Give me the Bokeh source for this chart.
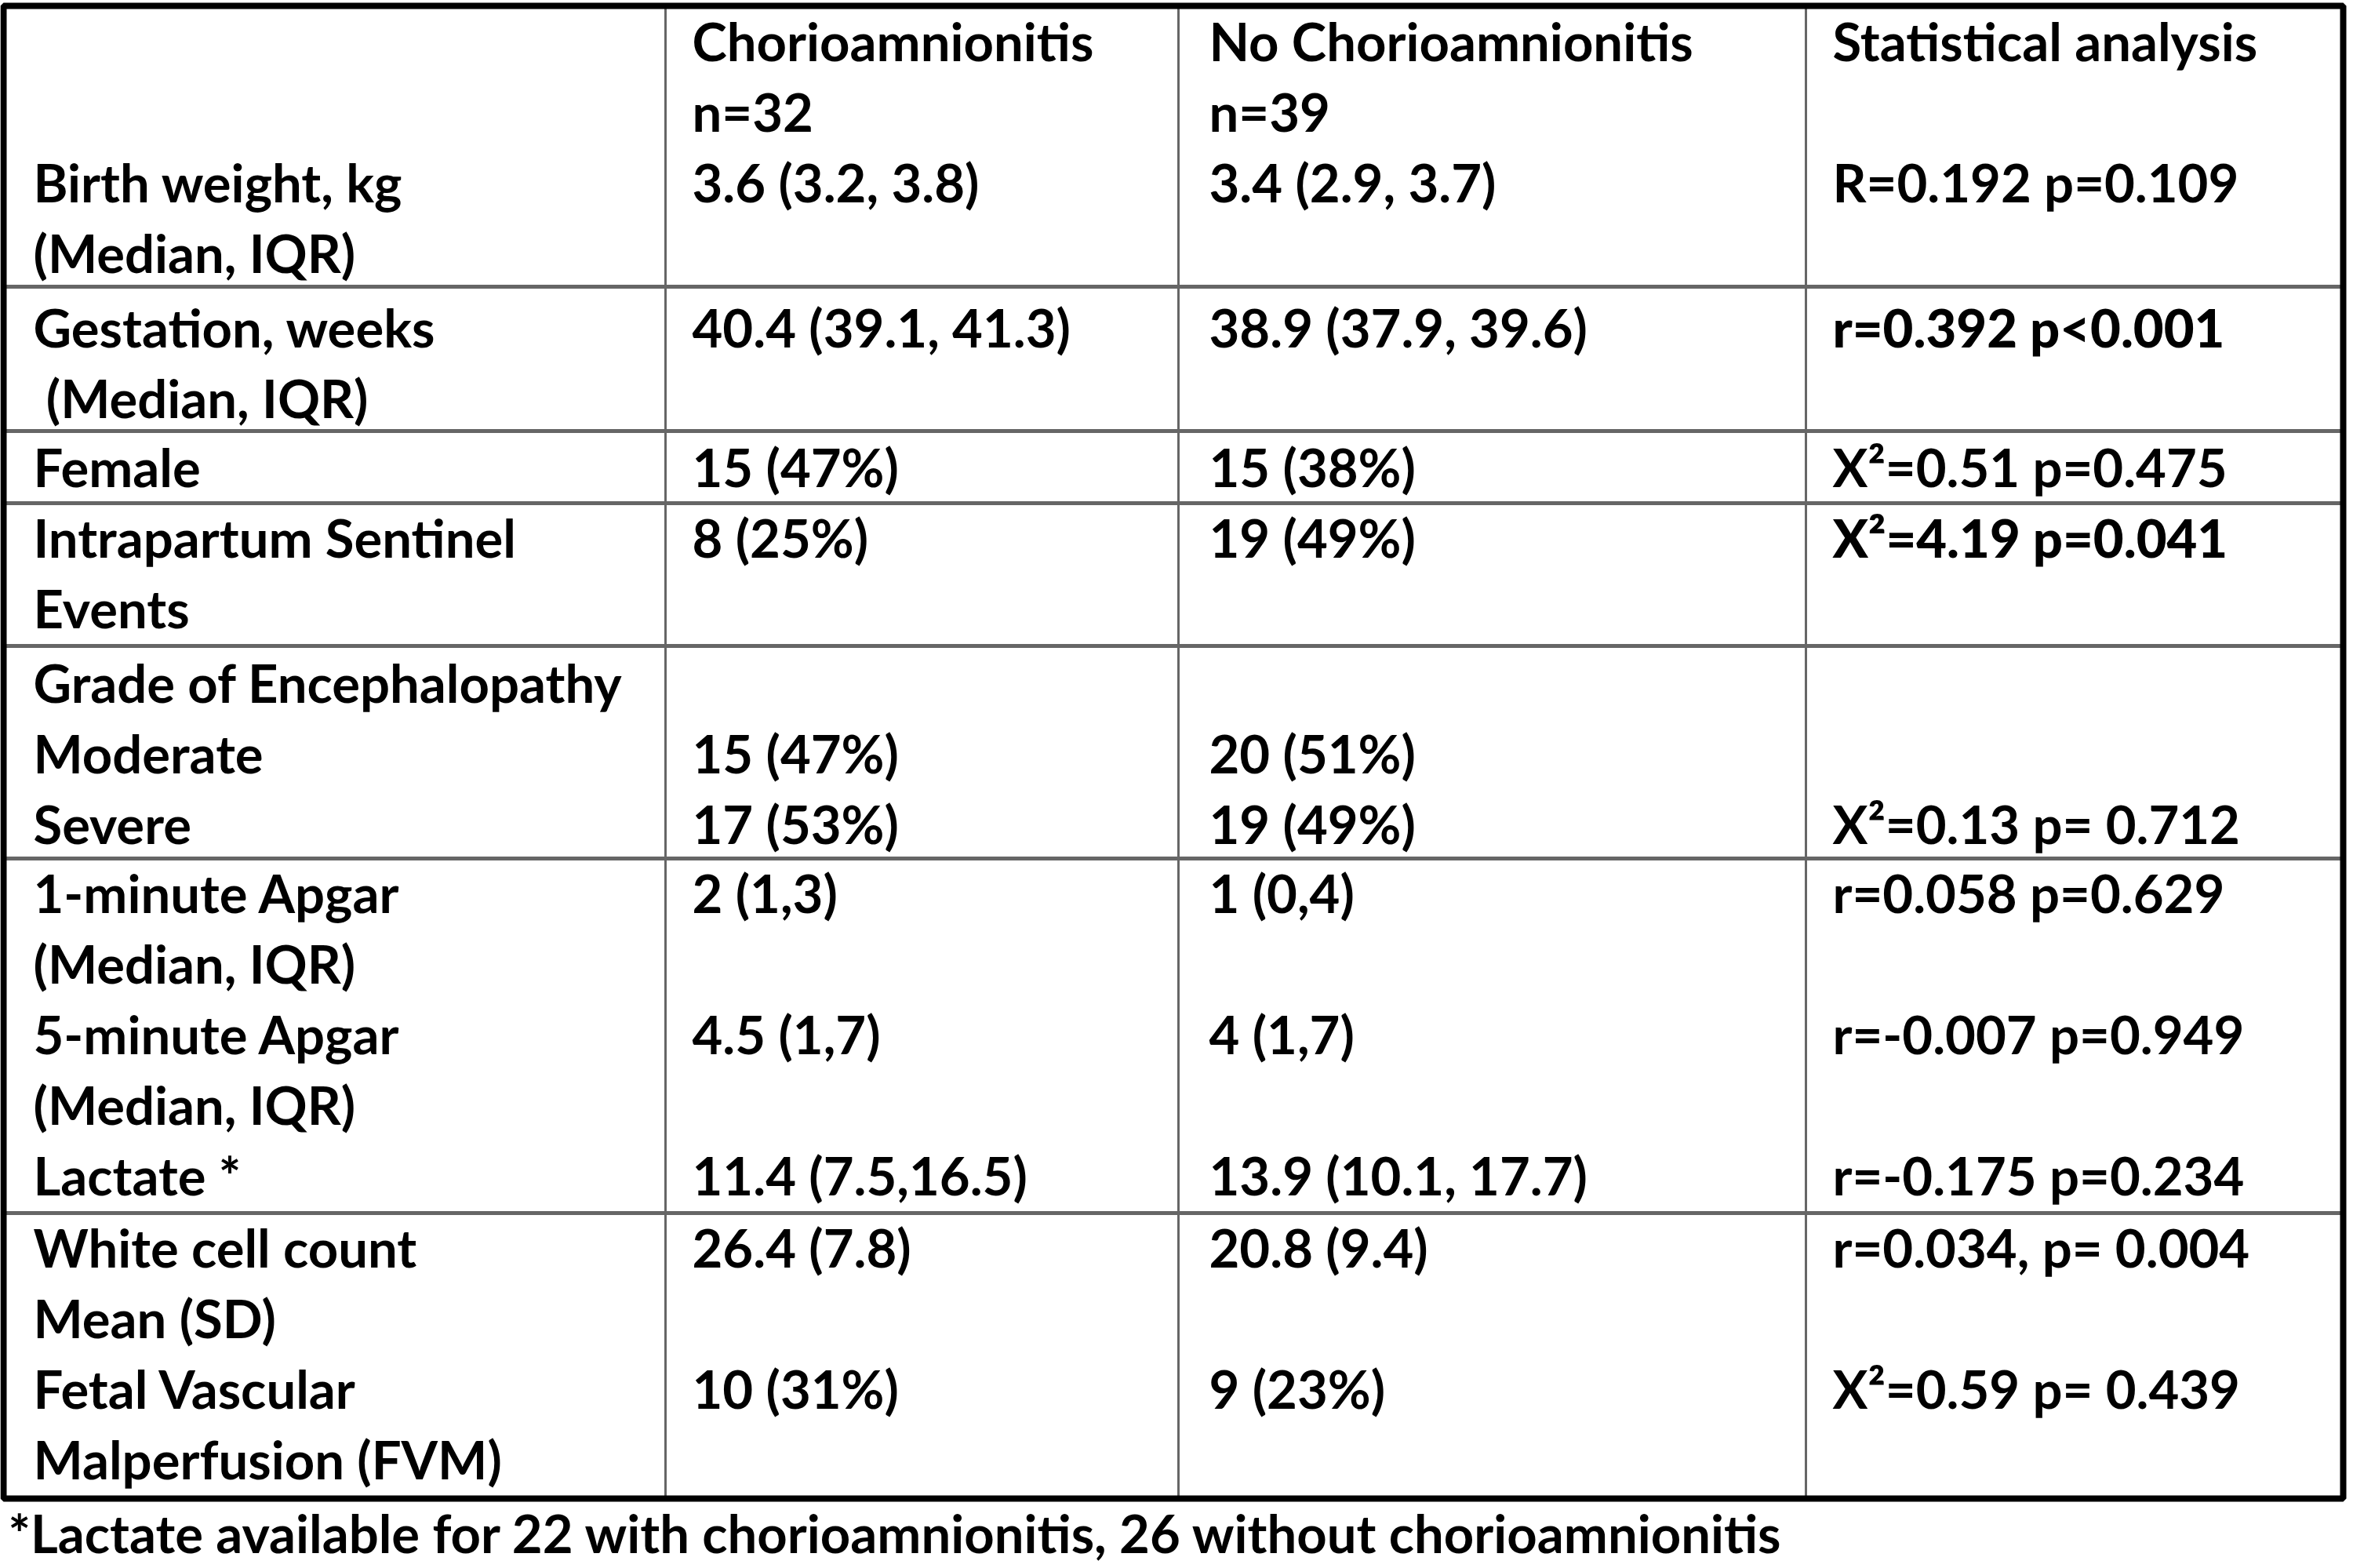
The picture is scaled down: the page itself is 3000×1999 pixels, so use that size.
from bokeh.plotting import figure
from bokeh.models import Range1d, ColumnDataSource
from bokeh.core.properties import value
from bokeh.embed import file_html
from bokeh.resources import INLINE

# ---------------- table content ----------------
label_col = [
    ["", "", "Birth weight, kg", "(Median, IQR)"],
    ["Gestation, weeks", "\u00a0(Median, IQR)"],
    ["Female"],
    ["Intrapartum Sentinel", "Events"],
    ["Grade of Encephalopathy", "Moderate", "Severe"],
    ["1-minute Apgar", "(Median, IQR)", "5-minute Apgar", "(Median, IQR)", "Lactate *"],
    ["White cell count", "Mean (SD)", "Fetal Vascular", "Malperfusion (FVM)"],
]
chorio_col = [
    ["Chorioamnionitis", "n=32", "3.6 (3.2, 3.8)"],
    ["40.4 (39.1, 41.3)"],
    ["15 (47%)"],
    ["8 (25%)"],
    ["", "15 (47%)", "17 (53%)"],
    ["2 (1,3)", "", "4.5 (1,7)", "", "11.4 (7.5,16.5)"],
    ["26.4 (7.8)", "", "10 (31%)"],
]
no_chorio_col = [
    ["No Chorioamnionitis", "n=39", "3.4 (2.9, 3.7)"],
    ["38.9 (37.9, 39.6)"],
    ["15 (38%)"],
    ["19 (49%)"],
    ["", "20 (51%)", "19 (49%)"],
    ["1 (0,4)", "", "4 (1,7)", "", "13.9 (10.1, 17.7)"],
    ["20.8 (9.4)", "", "9 (23%)"],
]
stats_col = [
    ["Statistical analysis", "", "R=0.192 p=0.109"],
    ["r=0.392 p<0.001"],
    ["X\u00b2=0.51 p=0.475"],
    ["X\u00b2=4.19 p=0.041"],
    ["", "", "X\u00b2=0.13 p= 0.712"],
    ["r=0.058 p=0.629", "", "r=-0.007 p=0.949", "", "r=-0.175 p=0.234"],
    ["r=0.034, p= 0.004", "", "X\u00b2=0.59 p= 0.439"],
]
stats_emphasis = [False, True, False, True, False, False, False]
footnote = "*Lactate available for 22 with chorioamnionitis, 26 without chorioamnionitis"

# ---------------- layout (pixels) ----------------
W, H = 2992, 1999
rule_y = [365, 549, 641, 823, 1094, 1546]
border_l, border_r, border_t, border_b = 4, 2987, 7, 1910
col_div_x = [848, 1502, 2302]
col_text_x = [42, 882, 1541, 2336]
first_center = [51, 416, 594, 684, 869, 1137, 1589]
pitch = 90
foot_x, foot_y = 10, 1953
FONT = "Lato"
FSIZE = "67px"

p = figure(width=W, height=H, x_range=Range1d(0, W), y_range=Range1d(H, 0),
           output_backend="svg", toolbar_location=None, x_axis_type=None, y_axis_type=None,
           min_border=0, min_border_left=0, min_border_right=0, min_border_top=0, min_border_bottom=0)
p.grid.visible = False
p.outline_line_color = None
p.background_fill_color = "white"
p.border_fill_color = "white"

# inner rules
p.segment(x0=[border_l] * len(rule_y), x1=[border_r] * len(rule_y), y0=rule_y, y1=rule_y,
          line_color="#666666", line_width=5)
p.segment(x0=col_div_x, x1=col_div_x, y0=[border_t] * 3, y1=[border_b] * 3,
          line_color="#666666", line_width=3)
# outer border
p.quad(left=[border_l], right=[border_r], top=[border_t], bottom=[border_b],
       fill_color=None, line_color="black", line_width=8)

reg = dict(x=[], y=[], t=[])
emp = dict(x=[], y=[], t=[])
for ci, col in enumerate([label_col, chorio_col, no_chorio_col, stats_col]):
    for ri, lines in enumerate(col):
        for li, s in enumerate(lines):
            if not s:
                continue
            d = emp if (ci == 3 and stats_emphasis[ri]) else reg
            d["x"].append(col_text_x[ci])
            d["y"].append(first_center[ri] + li * pitch)
            d["t"].append(s)
reg["x"].append(foot_x); reg["y"].append(foot_y); reg["t"].append(footnote)

p.text(x="x", y="y", text="t", source=ColumnDataSource(reg), text_font=value(FONT),
       text_font_size=FSIZE, text_font_style="bold", text_color="black",
       text_baseline="middle", text_align="left")
p.text(x="x", y="y", text="t", source=ColumnDataSource(emp), text_font=value("Lato Black"),
       text_font_size=FSIZE, text_font_style="bold", text_color="black",
       text_baseline="middle", text_align="left")

open("out.html", "w").write(file_html(p, INLINE))
